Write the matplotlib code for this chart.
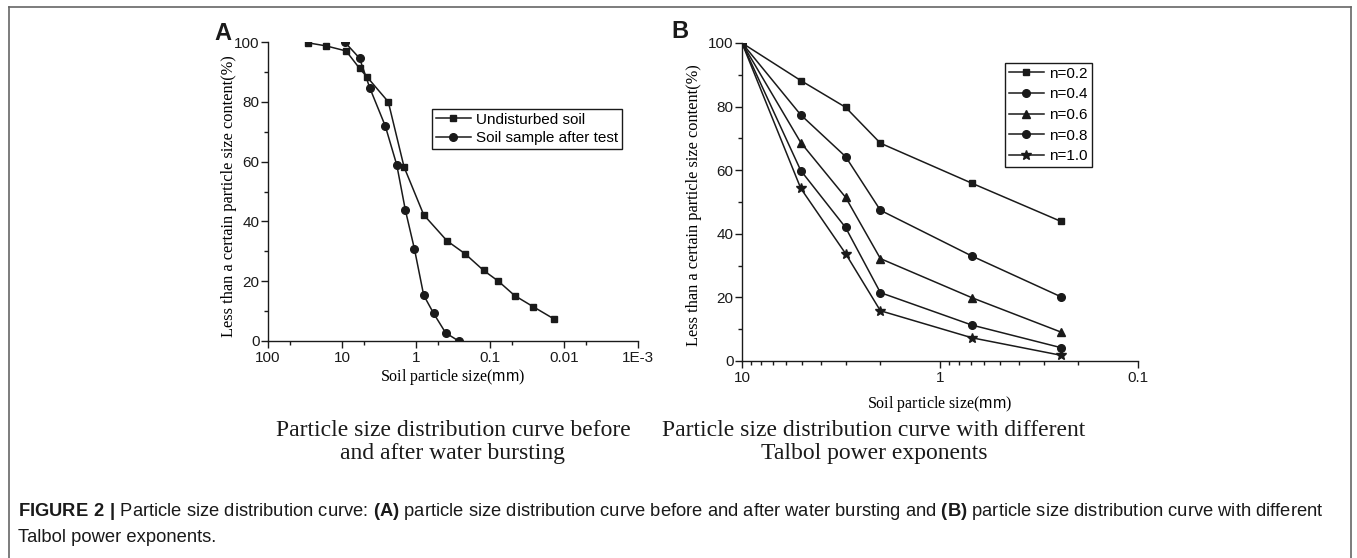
import matplotlib
matplotlib.use("Agg")
import matplotlib.pyplot as plt
from matplotlib.lines import Line2D
from matplotlib.ticker import FixedLocator, FixedFormatter, LogLocator, NullFormatter

# ---- data ----
# panel A
undist_size = [28.5, 16.4, 8.8, 5.8, 4.55, 2.37, 1.45, 0.787, 0.381, 0.218, 0.122, 0.077, 0.0465, 0.0262, 0.0135]
undist_pct = [99.7, 98.7, 97.0, 91.2, 88.2, 80.0, 58.2, 42.2, 33.5, 29.2, 23.6, 20.0, 15.2, 11.5, 7.3]
after_size = [9.2, 5.8, 4.19, 2.6, 1.82, 1.39, 1.05, 0.787, 0.577, 0.397, 0.265]
after_pct = [100, 94.6, 84.5, 71.9, 58.9, 43.7, 30.8, 15.3, 9.2, 2.7, 0]
a_xticks = [100, 10, 1, 0.1, 0.01, 0.001]
a_xticklabels = ['100', '10', '1', '0.1', '0.01', '1E-3']

# panel B (Talbol curves)
b_size = [10, 5.05, 3.0, 2.0, 0.69, 0.245]
n_labels = ['n=0.2', 'n=0.4', 'n=0.6', 'n=0.8', 'n=1.0']
n02 = [100, 88.2, 79.8, 68.5, 55.9, 43.9]
n04 = [100, 77.4, 64.3, 47.4, 33.0, 20.2]
n06 = [100, 68.7, 51.5, 32.2, 19.9, 9.1]
n08 = [100, 59.9, 42.0, 21.5, 11.3, 4.2]
n10 = [100, 54.3, 33.8, 15.8, 7.3, 1.8]
b_xticks = [10, 1, 0.1]
b_xticklabels = ['10', '1', '0.1']

plt.rcParams['font.family'] = ['Liberation Sans', 'DejaVu Sans']
plt.rcParams['mathtext.fontset'] = 'custom'
plt.rcParams['mathtext.rm'] = 'Liberation Sans'
plt.rcParams['mathtext.bf'] = 'Liberation Sans:bold'
plt.rcParams['axes.linewidth'] = 1.0

W, H = 1357, 558
fig = plt.figure(figsize=(W / 100, H / 100), dpi=100)
ink = '#1a1a1a'
serif = ['Liberation Serif', 'DejaVu Serif']
xlab = r'Soil particle size($\mathrm{mm}$)'
ylab = 'Less than a certain particle size content(%)'


def px_axes(left, right, top, bottom):
    return fig.add_axes([left / W, 1 - bottom / H, (right - left) / W, (bottom - top) / H])


def style(ax):
    for s in ['top', 'right']:
        ax.spines[s].set_visible(False)
    for s in ['left', 'bottom']:
        ax.spines[s].set_color(ink)
    ax.tick_params(which='major', direction='out', length=5, width=1, labelsize=11, colors=ink)
    ax.tick_params(which='minor', direction='out', length=3, width=1, colors=ink)
    ax.tick_params(axis='y', which='major', pad=1)
    ax.tick_params(axis='x', which='major', pad=2.5)
    ax.set_ylim(0, 100)
    ax.yaxis.set_major_locator(FixedLocator([0, 20, 40, 60, 80, 100]))
    ax.yaxis.set_minor_locator(FixedLocator([10, 30, 50, 70, 90]))


kw = dict(color=ink, lw=1.1, mfc=ink, mec=ink)
leg_kw = dict(loc='upper left', frameon=True, fancybox=False, edgecolor=ink, framealpha=1,
              handlelength=2.3, handletextpad=0.35, borderaxespad=0)

# ---- panel A ----
axA = px_axes(268, 638, 42, 341)
style(axA)
axA.set_xscale('log')
axA.set_xlim(100, 0.001)
axA.plot(undist_size, undist_pct, marker='s', ms=5, label='Undisturbed soil', **kw)
axA.plot(after_size, after_pct, marker='o', ms=5.5, label='Soil sample after test', **kw)
axA.xaxis.set_major_locator(FixedLocator(a_xticks))
axA.xaxis.set_major_formatter(FixedFormatter(a_xticklabels))
axA.xaxis.set_minor_locator(FixedLocator([50, 5, 0.5, 0.05, 0.005]))
axA.xaxis.set_minor_formatter(NullFormatter())
axA.set_xlabel(xlab, family=serif, fontsize=11.5)
axA.xaxis.set_label_coords(0.5, -0.088)
axA.set_ylabel(ylab, family=serif, fontsize=11.8)
axA.yaxis.set_label_coords(-0.083, 0.485)
axA.legend(bbox_to_anchor=((432 - 268) / 370, (341 - 109) / 299), fontsize=11,
           borderpad=0.25, labelspacing=0.3, **leg_kw)

# ---- panel B ----
axB = px_axes(742, 1138, 43, 361)
style(axB)
axB.set_xscale('log')
axB.set_xlim(10, 0.1)
markers = ['s', 'o', '^', 'o', '*']
sizes = [5, 5.5, 6, 5.5, 7]
for vals, lab, m, ms in zip([n02, n04, n06, n08, n10], n_labels, markers, sizes):
    axB.plot(b_size, vals, marker=m, ms=ms, label=lab, **kw)
axB.xaxis.set_major_locator(FixedLocator(b_xticks))
axB.xaxis.set_major_formatter(FixedFormatter(b_xticklabels))
axB.xaxis.set_minor_locator(LogLocator(base=10, subs=range(2, 10)))
axB.xaxis.set_minor_formatter(NullFormatter())
axB.set_xlabel(xlab, family=serif, fontsize=11.5)
axB.xaxis.set_label_coords(0.5, -0.105)
axB.set_ylabel(ylab, family=serif, fontsize=11.8)
axB.yaxis.set_label_coords(-0.1, 0.49)
axB.legend(bbox_to_anchor=((1005 - 742) / 396, (361 - 63) / 318), fontsize=11,
           borderpad=0.25, labelspacing=0.43, **leg_kw)

# panel letters
fig.text(214 / W, 1 - 33 / H, 'A', fontsize=17, fontweight='bold', va='center', color=ink)
fig.text(671 / W, 1 - 32 / H, 'B', fontsize=17, fontweight='bold', va='center', color=ink)

# sub titles under each panel
fig.text(453 / W, 1 - 442 / H, 'Particle size distribution curve before\nand after water bursting',
         family=serif, fontsize=17, ha='center', va='center', linespacing=1.12, color=ink)
fig.text(874 / W, 1 - 442 / H, 'Particle size distribution curve with different\nTalbol power exponents',
         family=serif, fontsize=17, ha='center', va='center', linespacing=1.12, color=ink)

# figure caption
fig.text(18 / W, 1 - 512 / H,
         r'$\mathbf{FIGURE\ 2\ |}$ Particle size distribution curve: $\mathbf{(A)}$ particle size distribution '
         r'curve before and after water bursting and $\mathbf{(B)}$ particle size distribution curve with different',
         fontsize=13.2, va='center', ha='left', color=ink)
fig.text(18 / W, 1 - 537 / H, 'Talbol power exponents.', fontsize=13.2, va='center', ha='left', color=ink)

# outer frame (open at the bottom)
frame = '#666666'
fig.add_artist(Line2D([9 / W, 9 / W], [0, 1 - 6.5 / H], color=frame, lw=1.2))
fig.add_artist(Line2D([9 / W, 1351 / W], [1 - 6.5 / H, 1 - 6.5 / H], color=frame, lw=1.2))
fig.add_artist(Line2D([1351 / W, 1351 / W], [0, 1 - 6.5 / H], color=frame, lw=1.2))

fig.savefig('out.png', dpi=100)
